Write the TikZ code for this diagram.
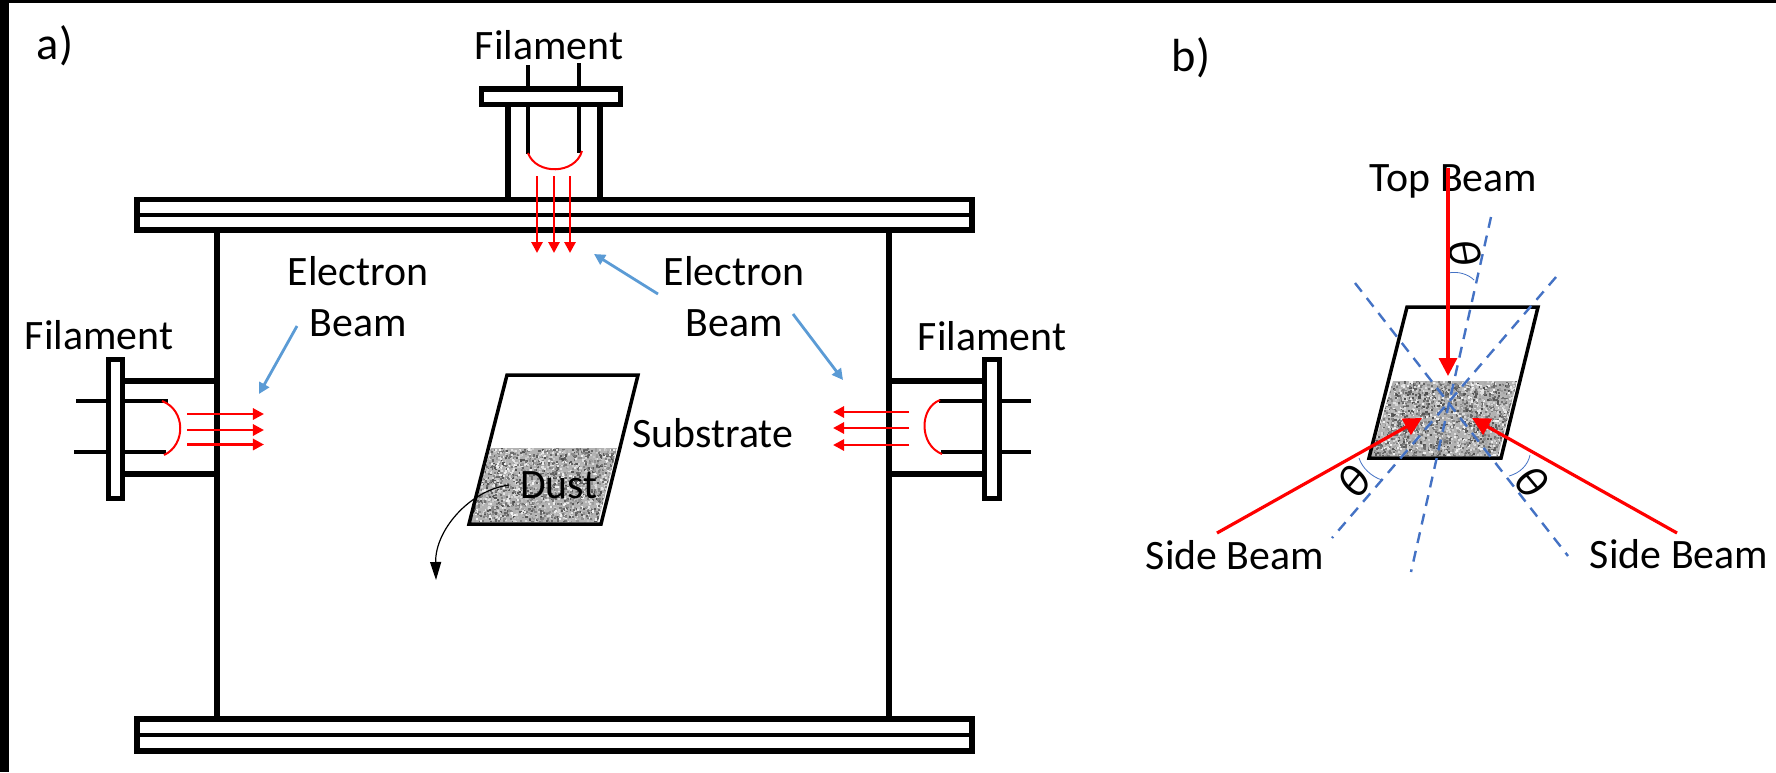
\documentclass[tikz,border=0pt]{standalone}
\usepackage{fontspec}
\setmainfont{Carlito}
\usetikzlibrary{arrows.meta}

\definecolor{leaderblue}{HTML}{5B9BD5}
\definecolor{dashblue}{HTML}{4472C4}

\newcommand{\dustspeckle}[5]{%
  \begin{scope}
    \clip (#1,#3) -- (#2,#3) -- (#2-19,#4) -- (#2-146,#4) -- cycle;
    \fill[black!30] (#1-30,#3) rectangle (#2,#4);
    \pgfmathsetseed{#5}
    \foreach \i in {1,...,2600}{
      \pgfmathsetmacro{\dx}{#1-20+rnd*(#2-#1+20)}
      \pgfmathsetmacro{\dy}{#3+rnd*(#4-#3)}
      \pgfmathtruncatemacro{\dk}{5+rnd*65}
      \fill[black!\dk] (\dx,\dy) rectangle ++(2.1,2.1);
    }
  \end{scope}}

\begin{document}
\begin{tikzpicture}[x=0.01cm,y=-0.01cm]

\tikzset{
  wall/.style={line width=0.055cm},
  lead/.style={line width=0.04cm},
  plate/.style={line width=0.035cm,line join=miter},
  filamentarc/.style={red,line width=0.02cm},
  ebeam/.style={red,line width=0.028cm,-{Triangle[length=0.11cm,width=0.11cm]}},
  wbeam/.style={red,line width=0.032cm,-{Triangle[length=0.18cm,width=0.18cm]}},
  leader/.style={leaderblue,line width=0.028cm,-{Triangle[length=0.11cm,width=0.11cm]}},
  normal/.style={dashblue,line width=0.024cm,dash pattern=on 0.11cm off 0.08cm},
  anglearc/.style={dashblue,line width=0.008cm},
  txt/.style={font=\fontsize{11.9}{14.5}\selectfont,inner sep=0pt,anchor=base,align=center},
  panel/.style={font=\fontsize{13.2}{15}\selectfont,inner sep=0pt,anchor=base},
  angtxt/.style={font=\fontsize{13}{15}\selectfont\itshape,inner sep=0pt}
}
\useasboundingbox (0,0) rectangle (1776,772);

% frame edges
\fill[black] (0,0) rectangle (1776,3);
\fill[black] (0,0) rectangle (9,772);

\node[panel] (a) at (55,59) {a)};
\node[panel] (b) at (1191,71) {b)};

% chamber
\draw[wall] (137,199.5) rectangle (972,230);
\draw[lead] (137,214.5) -- (972,214.5);
\draw[wall] (137,719) rectangle (972,751);
\draw[lead] (137,735) -- (972,735);
\draw[wall] (217,230) -- (217,719);
\draw[wall] (889,230) -- (889,719);

% top port
\draw[wall] (481.5,89) rectangle (620.5,104.5);
\draw[wall] (508,104) -- (508,199);
\draw[wall] (600,104) -- (600,199);
\draw[lead] (528,65) -- (528,90);
\draw[lead] (579,63) -- (579,90);
\draw[lead] (528,104) -- (528,154);
\draw[lead] (579,104) -- (579,153);
\draw[filamentarc] (528,153) .. controls (536,175) and (575,175) .. (582,151);
\foreach \bx in {537,554,570}
  \draw[ebeam] (\bx,176) -- (\bx,253);

% left port
\draw[wall] (108.5,359.5) rectangle (122.5,498.5);
\draw[wall] (125,381) -- (217,381);
\draw[wall] (125,474) -- (217,474);
\draw[lead] (76,401) -- (106,401);
\draw[lead] (74,452) -- (106,452);
\draw[lead] (125,401) -- (168,401);
\draw[lead] (125,452) -- (166,452);
\draw[filamentarc] (162,401) .. controls (186,410) and (186,445) .. (164,455);
\foreach \by in {414,430,444.5}
  \draw[ebeam] (187,\by) -- (264,\by);

% right port
\draw[wall] (984.5,359.5) rectangle (999.5,498.5);
\draw[wall] (889,381) -- (982,381);
\draw[wall] (889,474) -- (982,474);
\draw[lead] (939,401) -- (982,401);
\draw[lead] (941,452) -- (982,452);
\draw[lead] (1002,401) -- (1031,401);
\draw[lead] (1002,452) -- (1031,452);
\draw[filamentarc] (940,400) .. controls (919,408) and (919,445) .. (942,454);
\foreach \by in {412,428,445}
  \draw[ebeam] (909,\by) -- (833,\by);

% substrate a
\dustspeckle{491}{617}{448}{522}{11}
\draw[plate] (507,375) -- (638,375) -- (601,524) -- (469,524) -- cycle;
\draw[black,line width=0.012cm,-{Triangle[length=0.18cm,width=0.11cm]}] (509,485) .. controls (470,490) and (435,530) .. (436,580);

\node[txt] (filtop) at (549,59) {Filament};
\node[txt] (filleft) at (99,349) {Filament};
\node[txt] (filright) at (992,350) {Filament};
\node[txt] (ebleft) at (358,336) {Electron\\Beam};
\node[txt] (ebright) at (734,336) {Electron\\Beam};
\node[txt] (substrate) at (713,447) {Substrate};
\node[txt] (dust) at (559,498) {Dust};

\draw[leader] (297,326) -- (259,394);
\draw[leader] (658,294) -- (594,254);
\draw[leader] (793,314) -- (843,380);

% substrate b
\dustspeckle{1393}{1517}{381}{456}{23}
\draw[plate] (1407,307) -- (1538,307) -- (1501,458) -- (1369,458) -- cycle;

\draw[normal] (1491,217) -- (1411,572);
\draw[normal] (1355,283) -- (1568,556);
\draw[normal] (1556,277) -- (1332,538);
\draw[anglearc] (1448,273) .. controls (1458,271) and (1468,274) .. (1474,280);
\draw[anglearc] (1359,458) .. controls (1362,468) and (1372,477) .. (1382,480);
\draw[anglearc] (1530,455) .. controls (1528,465) and (1520,473) .. (1509,476);

\node[angtxt,rotate=-80] (thtop) at (1465,252) {θ};
\node[angtxt,rotate=50] (thleft) at (1354,482) {θ};
\node[angtxt,rotate=-50] (thright) at (1532,481) {θ};

\node[txt] (topbeam) at (1453.5,191) {Top Beam};
\node[txt] (sideleft) at (1235,569) {Side Beam};
\node[txt] (sideright) at (1679,568) {Side Beam};

\draw[wbeam] (1448,168) -- (1448,376);
\draw[wbeam] (1217,533) -- (1422,418);
\draw[wbeam] (1677,533) -- (1472,418);

\end{tikzpicture}
\end{document}
